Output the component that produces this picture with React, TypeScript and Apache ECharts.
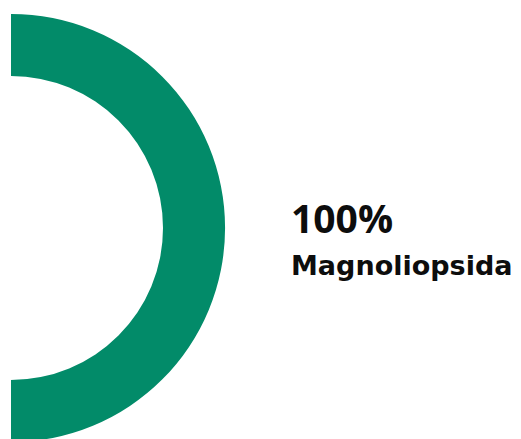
import React, { useEffect, useRef } from "react";
import * as echarts from "echarts";

const categories = ["Magnoliopsida"];
const values = [100];
const colors = ["#028B69"];

export default function App() {
  const ref = useRef<HTMLDivElement>(null);
  useEffect(() => {
    if (!ref.current) return;
    const chart = echarts.init(ref.current, null, { renderer: "svg" });
    const total = values.reduce((a, b) => a + b, 0);
    const pct = Math.round((values[0] / total) * 100) + "%";
    chart.setOption({
      animation: false,
      backgroundColor: "#ffffff",
      series: [
        {
          type: "pie",
          center: [11, 228],
          radius: [152, 214],
          startAngle: 90,
          endAngle: -90,
          clockwise: true,
          silent: true,
          label: { show: false },
          labelLine: { show: false },
          itemStyle: { borderWidth: 0 },
          data: categories.map((c, i) => ({
            name: c,
            value: values[i],
            itemStyle: { color: colors[i] },
          })),
        },
      ],
      graphic: [
        {
          type: "text",
          x: 291,
          y: 217.6,
          style: {
            text: pct,
            font: 'bold 39px "Open Sans"',
            fill: "#0d0d0d",
            textAlign: "left",
            textVerticalAlign: "middle",
          },
        },
        {
          type: "text",
          x: 291,
          y: 265,
          style: {
            text: categories[0],
            font: 'bold 27px "DejaVu Sans"',
            fill: "#0d0d0d",
            textAlign: "left",
            textVerticalAlign: "middle",
          },
        },
      ],
    });
    return () => chart.dispose();
  }, []);
  return (
    <div
      ref={ref}
      style={{ position: "absolute", left: 0, top: 0, width: 521, height: 439 }}
    />
  );
}
